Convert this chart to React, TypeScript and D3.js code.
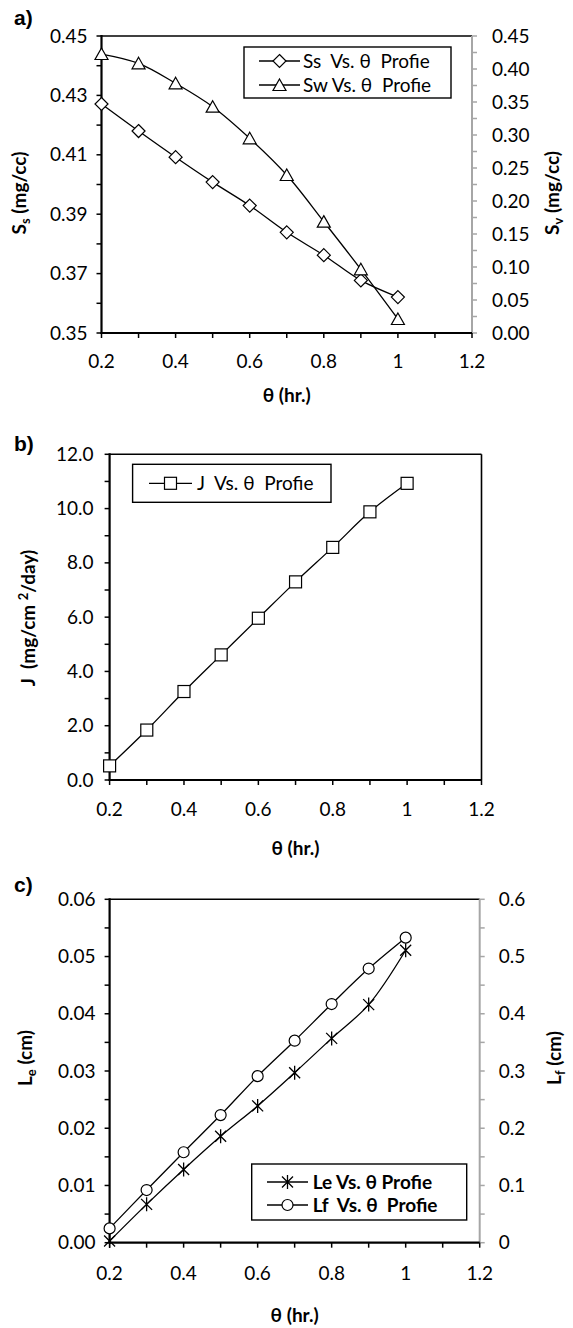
import { useEffect, useRef } from 'react';
import * as d3 from 'd3';

// theta (hr.) sampled for every series
const theta = [0.2, 0.3, 0.4, 0.5, 0.6, 0.7, 0.8, 0.9, 1.0];

// panel a
const ssValues = [0.4271, 0.418, 0.4092, 0.4008, 0.3929, 0.3839, 0.3762, 0.3677, 0.3621];
const swValues = [0.4227, 0.4086, 0.3783, 0.3429, 0.295, 0.2394, 0.1687, 0.0965, 0.0212];
// panel b
const jValues = [0.52, 1.84, 3.26, 4.61, 5.96, 7.3, 8.57, 9.88, 10.93];
// panel c
const leValues = [0.0003, 0.0067, 0.0128, 0.0186, 0.0239, 0.0297, 0.0357, 0.0416, 0.0511];
const lfValues = [0.025, 0.092, 0.158, 0.223, 0.291, 0.353, 0.417, 0.479, 0.533];

// tick labels
const xTicks = [0.2, 0.4, 0.6, 0.8, 1, 1.2];
const ssTicks = [0.35, 0.37, 0.39, 0.41, 0.43, 0.45];
const svTicks = [0, 0.05, 0.1, 0.15, 0.2, 0.25, 0.3, 0.35, 0.4, 0.45];
const jTicks = [0, 2, 4, 6, 8, 10, 12];
const leTicks = [0, 0.01, 0.02, 0.03, 0.04, 0.05, 0.06];
const lfTicks = [0, 0.1, 0.2, 0.3, 0.4, 0.5, 0.6];

const FONT = "Lato, 'Open Sans', 'DejaVu Sans', sans-serif";
const GRAY = '#a6a6a6';

type Marker = 'diamond' | 'triangle' | 'square' | 'circle' | 'star';
type Part = { t: string; sub?: boolean; sup?: boolean };

const drawMarker = (g: any, kind: Marker, cx: number, cy: number) => {
  const st = (s: any) => s.attr('fill', '#fff').attr('stroke', '#000').attr('stroke-width', 1.2);
  if (kind === 'diamond') {
    st(g.append('path').attr('d', `M${cx},${cy - 6.5}L${cx + 6.5},${cy}L${cx},${cy + 6.5}L${cx - 6.5},${cy}Z`));
  } else if (kind === 'triangle') {
    st(g.append('path').attr('d', `M${cx},${cy - 6}L${cx + 6.5},${cy + 5.5}L${cx - 6.5},${cy + 5.5}Z`));
  } else if (kind === 'square') {
    st(g.append('rect').attr('x', cx - 6).attr('y', cy - 6).attr('width', 12).attr('height', 12));
  } else if (kind === 'circle') {
    st(g.append('circle').attr('cx', cx).attr('cy', cy).attr('r', 5.5));
  } else {
    g.append('path')
      .attr('d', `M${cx - 5.5},${cy - 5.5}L${cx + 5.5},${cy + 5.5}M${cx + 5.5},${cy - 5.5}L${cx - 5.5},${cy + 5.5}M${cx},${cy - 7}L${cx},${cy + 7}`)
      .attr('stroke', '#000')
      .attr('stroke-width', 1.3)
      .attr('fill', 'none');
  }
};

const richText = (g: any, parts: Part[], x: number, y: number, rotate: boolean, size: number) => {
  const t = g.append('text')
    .attr('font-family', FONT)
    .attr('font-size', size)
    .attr('font-weight', 'bold')
    .attr('text-anchor', 'middle')
    .style('white-space', 'pre')
    .attr('transform', rotate ? `translate(${x},${y}) rotate(-90)` : `translate(${x},${y})`);
  let shift = 0;
  parts.forEach((p) => {
    const target = p.sub ? 4 : p.sup ? -7 : 0;
    t.append('tspan')
      .attr('dy', target - shift)
      .attr('font-size', p.sub || p.sup ? size * 0.68 : size)
      .text(p.t);
    shift = target;
  });
};

interface Series { values: number[]; axis: 'left' | 'right'; marker: Marker }
interface LegendRow { y: number; label: string; marker: Marker }
interface PanelCfg {
  l: number; r: number; t: number; b: number;
  leftDomain: [number, number]; leftTicks: number[]; leftMinor: number; leftFmt: (d: number) => string; leftGap: number;
  right?: { domain: [number, number]; ticks: number[]; minor: number; fmt: (d: number) => string; gap: number };
  series: Series[];
  legend: { x: number; y: number; w: number; h: number; lineX0: number; lineX1: number; textX: number; bold: boolean; rows: LegendRow[] };
  tag: { text: string; x: number; y: number };
  xLabelY: number; xTitleY: number;
  leftTitle: { parts: Part[]; x: number; y: number };
  rightTitle?: { parts: Part[]; x: number; y: number };
}

const drawPanel = (svg: any, p: PanelCfg) => {
  const g = svg.append('g');
  const x = d3.scaleLinear().domain([0.2, 1.2]).range([p.l, p.r]);
  const yL = d3.scaleLinear().domain(p.leftDomain).range([p.b, p.t]);
  const yR = p.right ? d3.scaleLinear().domain(p.right.domain).range([p.b, p.t]) : null;

  // frame: top always black, right black unless secondary axis
  g.append('line').attr('x1', p.l).attr('x2', p.r).attr('y1', p.t).attr('y2', p.t)
    .attr('stroke', '#000').attr('stroke-width', 1.6);
  if (!yR) {
    g.append('line').attr('x1', p.r).attr('x2', p.r).attr('y1', p.t).attr('y2', p.b)
      .attr('stroke', '#000').attr('stroke-width', 1.6);
  }

  // secondary axis
  if (yR && p.right) {
    const rr = p.right;
    const minor = d3.range(rr.domain[0], rr.domain[1] + 1e-9, rr.minor);
    g.selectAll(null).data(minor).enter().append('line')
      .attr('x1', p.r).attr('x2', p.r + 5)
      .attr('y1', (d: number) => yR(d)).attr('y2', (d: number) => yR(d))
      .attr('stroke', GRAY).attr('stroke-width', 1.5);
    g.append('line').attr('x1', p.r).attr('x2', p.r).attr('y1', p.t).attr('y2', p.b)
      .attr('stroke', GRAY).attr('stroke-width', 2);
    g.selectAll(null).data(rr.ticks).enter().append('text')
      .attr('x', p.r + rr.gap).attr('y', (d: number) => yR(d) + 6.5)
      .attr('font-family', FONT).attr('font-size', 19).attr('fill', '#000')
      .text(rr.fmt);
  }

  // primary axis
  const lMinor = d3.range(p.leftDomain[0], p.leftDomain[1] + 1e-9, p.leftMinor);
  g.selectAll(null).data(lMinor).enter().append('line')
    .attr('x1', p.l - 5).attr('x2', p.l)
    .attr('y1', (d: number) => yL(d)).attr('y2', (d: number) => yL(d))
    .attr('stroke', '#000').attr('stroke-width', 1.5);
  g.append('line').attr('x1', p.l).attr('x2', p.l).attr('y1', p.t - 1).attr('y2', p.b + 1)
    .attr('stroke', '#000').attr('stroke-width', 2.2);
  g.selectAll(null).data(p.leftTicks).enter().append('text')
    .attr('x', p.l - p.leftGap).attr('y', (d: number) => yL(d) + 6.5)
    .attr('text-anchor', 'end')
    .attr('font-family', FONT).attr('font-size', 19).attr('fill', '#000')
    .text(p.leftFmt);

  // x axis
  const xMinor = d3.range(0.2, 1.2 + 1e-9, 0.1);
  g.selectAll(null).data(xMinor).enter().append('line')
    .attr('x1', (d: number) => x(d)).attr('x2', (d: number) => x(d))
    .attr('y1', p.b).attr('y2', p.b + 5)
    .attr('stroke', '#000').attr('stroke-width', 1.5);
  g.append('line').attr('x1', p.l - 1).attr('x2', p.r).attr('y1', p.b).attr('y2', p.b)
    .attr('stroke', '#000').attr('stroke-width', 2.2);
  g.selectAll(null).data(xTicks).enter().append('text')
    .attr('x', (d: number) => x(d)).attr('y', p.xLabelY)
    .attr('text-anchor', 'middle')
    .attr('font-family', FONT).attr('font-size', 19).attr('fill', '#000')
    .text((d: number) => (d === 1 ? '1' : d3.format('.1f')(d)));

  // series
  p.series.forEach((s) => {
    const ys = s.axis === 'right' && yR ? yR : yL;
    const pts = theta.map((t, i) => [x(t), ys(s.values[i])] as [number, number]);
    g.append('path')
      .attr('d', d3.line().curve(d3.curveCatmullRom.alpha(0.5))(pts))
      .attr('fill', 'none').attr('stroke', '#000').attr('stroke-width', 1.3);
    pts.forEach(([px, py]) => drawMarker(g, s.marker, px, py));
  });

  // legend
  const lg = p.legend;
  g.append('rect').attr('x', lg.x).attr('y', lg.y).attr('width', lg.w).attr('height', lg.h)
    .attr('fill', '#fff').attr('stroke', '#000').attr('stroke-width', 1.4);
  lg.rows.forEach((row) => {
    g.append('line').attr('x1', lg.lineX0).attr('x2', lg.lineX1).attr('y1', row.y).attr('y2', row.y)
      .attr('stroke', '#000').attr('stroke-width', 1.3);
    drawMarker(g, row.marker, (lg.lineX0 + lg.lineX1) / 2, row.y);
    g.append('text').attr('x', lg.textX).attr('y', row.y + 6.5)
      .attr('font-family', FONT).attr('font-size', 19)
      .attr('font-weight', lg.bold ? 'bold' : 'normal')
      .style('white-space', 'pre')
      .text(row.label);
  });

  // panel tag and titles
  g.append('text').attr('x', p.tag.x).attr('y', p.tag.y)
    .attr('font-family', "'Liberation Sans', Arial, sans-serif").attr('font-size', 21).attr('font-weight', 'bold')
    .text(p.tag.text);
  richText(g, [{ t: 'θ (hr.)' }], (p.l + p.r) / 2, p.xTitleY, false, 19);
  richText(g, p.leftTitle.parts, p.leftTitle.x, p.leftTitle.y, true, 19);
  if (p.rightTitle) richText(g, p.rightTitle.parts, p.rightTitle.x, p.rightTitle.y, true, 19);
};

const App = () => {
  const ref = useRef<SVGSVGElement | null>(null);

  useEffect(() => {
    if (!ref.current) return;
    const svg = d3.select(ref.current);
    svg.selectAll('*').remove();

    drawPanel(svg, {
      l: 101.5, r: 472, t: 36, b: 333,
      leftDomain: [0.35, 0.45], leftTicks: ssTicks, leftMinor: 0.01, leftFmt: d3.format('.2f'), leftGap: 14,
      right: { domain: [0, 0.45], ticks: svTicks, minor: 0.025, fmt: d3.format('.2f'), gap: 20 },
      series: [
        { values: ssValues, axis: 'left', marker: 'diamond' },
        { values: swValues, axis: 'right', marker: 'triangle' },
      ],
      legend: {
        x: 244, y: 47, w: 207, h: 51, lineX0: 259, lineX1: 300, textX: 303, bold: false,
        rows: [
          { y: 61, label: 'Ss  Vs. θ  Profie', marker: 'diamond' },
          { y: 85, label: 'Sw Vs. θ  Profie', marker: 'triangle' },
        ],
      },
      tag: { text: 'a)', x: 14, y: 25 },
      xLabelY: 368, xTitleY: 402,
      leftTitle: { parts: [{ t: 'S' }, { t: 's', sub: true }, { t: ' (mg/cc)' }], x: 26, y: 193 },
      rightTitle: { parts: [{ t: 'S' }, { t: 'v', sub: true }, { t: ' (mg/cc)' }], x: 559, y: 193 },
    });

    drawPanel(svg, {
      l: 109.6, r: 481.5, t: 454.3, b: 780,
      leftDomain: [0, 12], leftTicks: jTicks, leftMinor: 1, leftFmt: d3.format('.1f'), leftGap: 16,
      series: [{ values: jValues, axis: 'left', marker: 'square' }],
      legend: {
        x: 132.6, y: 464.3, w: 198.4, h: 38, lineX0: 149, lineX1: 192, textX: 197, bold: false,
        rows: [{ y: 483.3, label: 'J  Vs. θ  Profie', marker: 'square' }],
      },
      tag: { text: 'b)', x: 14, y: 451 },
      xLabelY: 816, xTitleY: 855,
      leftTitle: { parts: [{ t: 'J  (mg/cm ' }, { t: '2', sup: true }, { t: '/day)' }], x: 35, y: 618 },
    });

    drawPanel(svg, {
      l: 109.6, r: 479.7, t: 899.3, b: 1242.7,
      leftDomain: [0, 0.06], leftTicks: leTicks, leftMinor: 0.005, leftFmt: d3.format('.2f'), leftGap: 14,
      right: {
        domain: [0, 0.6], ticks: lfTicks, minor: 0.05,
        fmt: (d: number) => (d === 0 ? '0' : d3.format('.1f')(d)), gap: 19,
      },
      series: [
        { values: leValues, axis: 'left', marker: 'star' },
        { values: lfValues, axis: 'right', marker: 'circle' },
      ],
      legend: {
        x: 251.7, y: 1164, w: 215, h: 56, lineX0: 267, lineX1: 308, textX: 312.7, bold: true,
        rows: [
          { y: 1182, label: 'Le Vs. θ Profie', marker: 'star' },
          { y: 1205, label: 'Lf  Vs. θ  Profie', marker: 'circle' },
        ],
      },
      tag: { text: 'c)', x: 14, y: 892 },
      xLabelY: 1280, xTitleY: 1322,
      leftTitle: { parts: [{ t: 'L' }, { t: 'e', sub: true }, { t: ' (cm)' }], x: 32, y: 1058 },
      rightTitle: { parts: [{ t: 'L' }, { t: 'f', sub: true }, { t: ' (cm)' }], x: 561, y: 1058 },
    });
  }, []);

  return (
    <svg
      ref={ref}
      width={573}
      height={1328}
      style={{ position: 'absolute', left: 0, top: 0, background: '#fff' }}
    />
  );
};

export default App;
